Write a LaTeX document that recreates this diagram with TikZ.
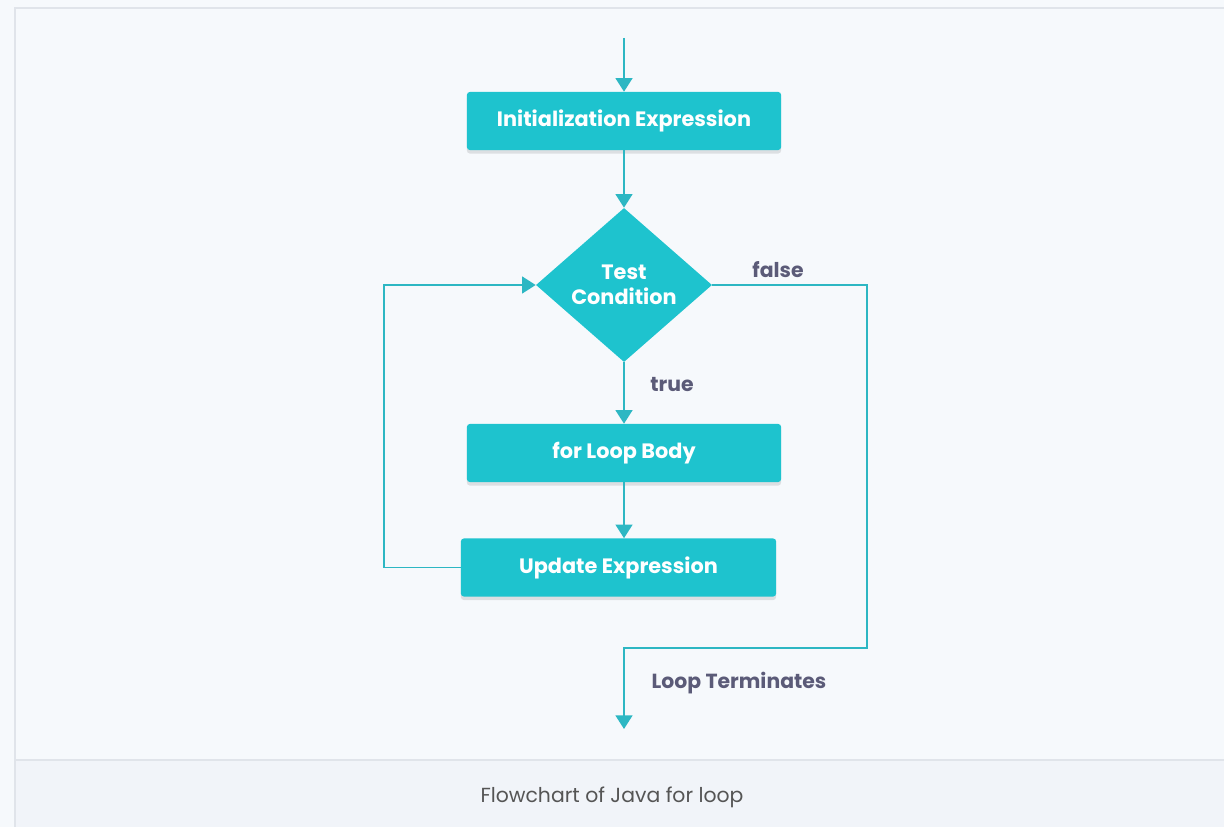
\documentclass[tikz,border=0pt]{standalone}
\usepackage{fontspec}
\setmainfont{Poppins}
\usetikzlibrary{shapes.geometric,arrows.meta,shadows}
\definecolor{teal1}{HTML}{1EC3CE}
\definecolor{linec}{HTML}{2DB7C3}
\definecolor{bgc}{HTML}{F6F9FC}
\definecolor{capbg}{HTML}{F1F4F9}
\definecolor{labc}{HTML}{5B5B78}
\definecolor{framec}{HTML}{E0E4EA}
\definecolor{capc}{HTML}{555555}
\tikzset{
  stepbox/.style={rectangle, rounded corners=2pt, fill=teal1, text=white,
    font=\bfseries\fontsize{14.8}{17}\selectfont, minimum width=7.85cm, minimum height=1.45cm, inner sep=0pt,
    drop shadow={fill=black, opacity=0.10, shadow xshift=0pt, shadow yshift=-2.5pt}},
  decision/.style={diamond, fill=teal1, text=white, align=center,
    font=\bfseries\fontsize{14.8}{18}\selectfont, minimum width=4.4cm, minimum height=3.85cm, inner sep=0pt},
  arr/.style={draw=linec, line width=1.4pt, -{Triangle[width=0.42cm,length=0.34cm]}, color=linec},
  lab/.style={text=labc, font=\bfseries\fontsize{14.5}{17}\selectfont, inner sep=0pt},
}
\begin{document}
\begin{tikzpicture}[x=0.025cm,y=-0.025cm]
\useasboundingbox (0,0) rectangle (1224,827);
\fill[bgc] (0,0) rectangle (1224,827);
\fill[capbg] (15,760) rectangle (1224,827);
\draw[framec, line width=0.8pt] (15,827) -- (15,8) -- (1224,8);
\draw[framec, line width=0.8pt] (15,760) -- (1224,760);

\node[stepbox] (init) at (624,121) {Initialization Expression};
\node[decision] (cond) at (624,285) {Test\\Condition};
\node[stepbox] (body) at (624,453) {for Loop Body};
\node[stepbox, minimum width=7.875cm] (update) at (618.5,567.5) {Update Expression};

\coordinate (start) at (624,38);
\coordinate (fr) at (867,285);
\coordinate (fb) at (867,648);
\coordinate (fl) at (624,648);
\coordinate (finish) at (624,729);
\coordinate (lb) at (384,567.5);

\draw[arr] (start) -- (init.north);
\draw[arr] (init.south) -- (cond.north);
\draw[arr] (cond.south) -- (body.north);
\draw[arr] (body.south) -- (update.north -| body.south);
\draw[arr] (update.west) -- (lb) |- (cond.west);
\draw[arr] (cond.east) -- (fr) -- (fb) -- (fl) -- (finish);

\node[lab] (lfalse) at (778,270) {false};
\node[lab] (ltrue) at (672,385) {true};
\node[lab] (lterm) at (739,683) {Loop Terminates};
\node[text=capc, font=\fontsize{14.5}{17}\selectfont] (cap) at (612,797) {Flowchart of Java for loop};
\end{tikzpicture}
\end{document}
